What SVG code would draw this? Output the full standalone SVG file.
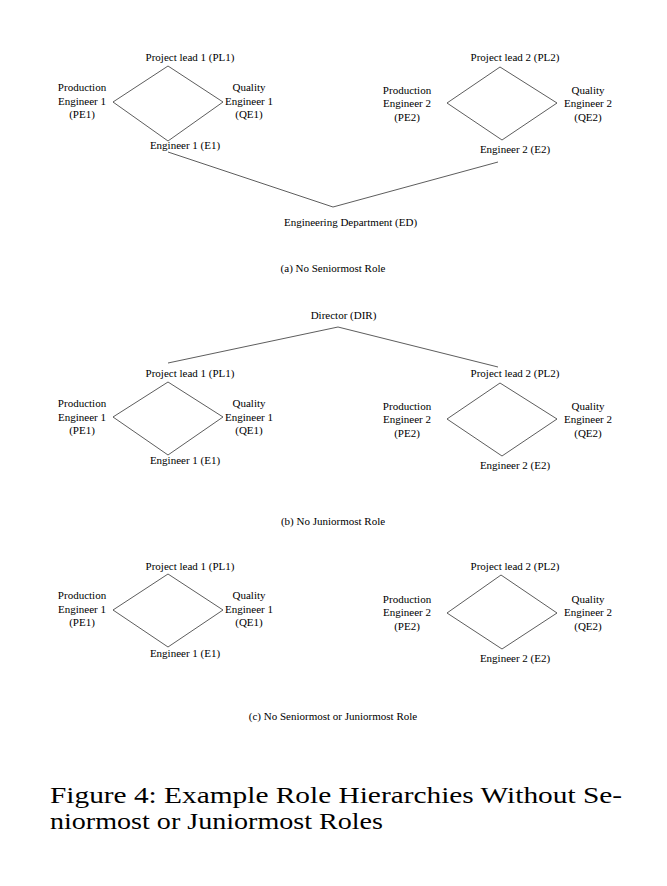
<svg xmlns="http://www.w3.org/2000/svg" width="667" height="886" viewBox="0 0 667 886">
<style>
text{font-family:"Liberation Serif","Times New Roman",serif;fill:#000}
.n{font-size:11px;text-anchor:middle}
.cap{font-size:11px;text-anchor:middle}
.fig{font-size:24px}
.e{stroke:#333;stroke-width:0.8;fill:none}
</style>
<rect width="667" height="886" fill="#fff"/>
<g id="connectors">
<!-- (a) -->
<path class="e" d="M168,66 L113,102 L168,141 L223,102 Z"/>
<path class="e" d="M500,67 L447,103 L502,140 L557,103 Z"/>
<path class="e" d="M168,152 L333,207 L498,162"/>
<!-- (b) -->
<path class="e" d="M168,363 L338,327 L498,367"/>
<path class="e" d="M168,382 L113,417 L168,455 L223,417 Z"/>
<path class="e" d="M500,383 L447,419 L502,456 L557,419 Z"/>
<!-- (c) -->
<path class="e" d="M168,574 L113,610 L168,647 L223,610 Z"/>
<path class="e" d="M501,575 L447,613 L502,649 L557,613 Z"/>
</g>
<!-- (a) nodes -->
<g id="a-PL1"><text class="n" x="190" y="61">Project lead 1 (PL1)</text></g>
<g id="a-PE1"><text class="n" x="82" y="91">Production</text><text class="n" x="82" y="104.5">Engineer 1</text><text class="n" x="82" y="118">(PE1)</text></g>
<g id="a-QE1"><text class="n" x="249" y="91">Quality</text><text class="n" x="249" y="104.5">Engineer 1</text><text class="n" x="249" y="118">(QE1)</text></g>
<g id="a-E1"><text class="n" x="185" y="148.5">Engineer 1 (E1)</text></g>
<g id="a-PL2"><text class="n" x="515" y="61">Project lead 2 (PL2)</text></g>
<g id="a-PE2"><text class="n" x="407" y="93.5">Production</text><text class="n" x="407" y="107">Engineer 2</text><text class="n" x="407" y="120.5">(PE2)</text></g>
<g id="a-QE2"><text class="n" x="588" y="93.5">Quality</text><text class="n" x="588" y="107">Engineer 2</text><text class="n" x="588" y="120.5">(QE2)</text></g>
<g id="a-E2"><text class="n" x="515" y="152.7">Engineer 2 (E2)</text></g>
<g id="a-ED"><text class="n" x="350.5" y="226">Engineering Department (ED)</text></g>
<text class="cap" x="333" y="272">(a) No Seniormost Role</text>
<!-- (b) nodes -->
<g id="b-DIR"><text class="n" x="343.5" y="319">Director (DIR)</text></g>
<g id="b-PL1"><text class="n" x="190" y="377">Project lead 1 (PL1)</text></g>
<g id="b-PE1"><text class="n" x="82" y="407">Production</text><text class="n" x="82" y="420.5">Engineer 1</text><text class="n" x="82" y="434">(PE1)</text></g>
<g id="b-QE1"><text class="n" x="249" y="407">Quality</text><text class="n" x="249" y="420.5">Engineer 1</text><text class="n" x="249" y="434">(QE1)</text></g>
<g id="b-E1"><text class="n" x="185" y="464.3">Engineer 1 (E1)</text></g>
<g id="b-PL2"><text class="n" x="515" y="377.3">Project lead 2 (PL2)</text></g>
<g id="b-PE2"><text class="n" x="407" y="409.5">Production</text><text class="n" x="407" y="423">Engineer 2</text><text class="n" x="407" y="436.5">(PE2)</text></g>
<g id="b-QE2"><text class="n" x="588" y="409.5">Quality</text><text class="n" x="588" y="423">Engineer 2</text><text class="n" x="588" y="436.5">(QE2)</text></g>
<g id="b-E2"><text class="n" x="515" y="468.5">Engineer 2 (E2)</text></g>
<text class="cap" x="333" y="525">(b) No Juniormost Role</text>
<!-- (c) nodes -->
<g id="c-PL1"><text class="n" x="190" y="569.5">Project lead 1 (PL1)</text></g>
<g id="c-PE1"><text class="n" x="82" y="599">Production</text><text class="n" x="82" y="612.5">Engineer 1</text><text class="n" x="82" y="626">(PE1)</text></g>
<g id="c-QE1"><text class="n" x="249" y="599">Quality</text><text class="n" x="249" y="612.5">Engineer 1</text><text class="n" x="249" y="626">(QE1)</text></g>
<g id="c-E1"><text class="n" x="185" y="657">Engineer 1 (E1)</text></g>
<g id="c-PL2"><text class="n" x="515" y="569.5">Project lead 2 (PL2)</text></g>
<g id="c-PE2"><text class="n" x="407" y="602.5">Production</text><text class="n" x="407" y="616">Engineer 2</text><text class="n" x="407" y="629.5">(PE2)</text></g>
<g id="c-QE2"><text class="n" x="588" y="602.5">Quality</text><text class="n" x="588" y="616">Engineer 2</text><text class="n" x="588" y="629.5">(QE2)</text></g>
<g id="c-E2"><text class="n" x="515" y="661.5">Engineer 2 (E2)</text></g>
<text class="cap" x="333" y="720">(c) No Seniormost or Juniormost Role</text>
<!-- figure caption -->
<text class="fig" x="50" y="802.5" textLength="572" lengthAdjust="spacingAndGlyphs">Figure 4:  Example Role Hierarchies Without Se-</text>
<text class="fig" x="50" y="828.5" textLength="333" lengthAdjust="spacingAndGlyphs">niormost or Juniormost Roles</text>
</svg>
